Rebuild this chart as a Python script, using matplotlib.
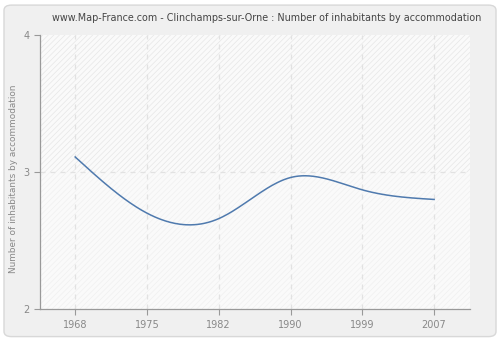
import numpy as np
import matplotlib
matplotlib.use("Agg")
import matplotlib.pyplot as plt
from matplotlib.patches import FancyBboxPatch, Rectangle

years = ["1968", "1975", "1982", "1990", "1999", "2007"]
inhabitants = [3.11, 2.70, 2.66, 2.96, 2.87, 2.80]
y_ticks = [2, 3, 4]


def natural_spline(x, y, n=300):
    # natural cubic spline through the points
    x = np.asarray(x, float)
    y = np.asarray(y, float)
    k = len(x)
    h = np.diff(x)
    A = np.zeros((k, k))
    b = np.zeros(k)
    A[0, 0] = A[-1, -1] = 1
    for i in range(1, k - 1):
        A[i, i - 1] = h[i - 1]
        A[i, i] = 2 * (h[i - 1] + h[i])
        A[i, i + 1] = h[i]
        b[i] = 6 * ((y[i + 1] - y[i]) / h[i] - (y[i] - y[i - 1]) / h[i - 1])
    m = np.linalg.solve(A, b)
    xs = np.linspace(x[0], x[-1], n)
    ys = np.empty_like(xs)
    for j, t in enumerate(xs):
        i = min(np.searchsorted(x, t, side="right") - 1, k - 2)
        a, c = x[i], x[i + 1]
        ys[j] = (m[i] * (c - t) ** 3 / (6 * h[i]) + m[i + 1] * (t - a) ** 3 / (6 * h[i])
                 + (y[i] / h[i] - m[i] * h[i] / 6) * (c - t)
                 + (y[i + 1] / h[i] - m[i + 1] * h[i] / 6) * (t - a))
    return xs, ys


plt.rcParams["hatch.linewidth"] = 0.5
fig = plt.figure(figsize=(5, 3.4), dpi=100, facecolor="white")
fig.patches.append(FancyBboxPatch((0.008, 0.01), 0.984, 0.975, boxstyle="round,pad=0,rounding_size=0.015",
                                  transform=fig.transFigure, facecolor="#f0f0f0", edgecolor="#d8d8d8",
                                  linewidth=1, zorder=-5))

ax = fig.add_axes([0.08, 0.091, 0.86, 0.806])
ax.set_zorder(1)
ax.set_facecolor("#fafafa")
pos = np.arange(len(years))
ax.set_xlim(-0.49, len(years) - 0.5)
ax.set_ylim(y_ticks[0], y_ticks[-1])

ax.add_patch(Rectangle((-0.49, 3), len(years), 1, facecolor="none", edgecolor="#e6e6e6",
                       hatch="//////", linewidth=0, zorder=0))
ax.add_patch(Rectangle((-0.49, 2), len(years), 1, facecolor="none", edgecolor="#f0f0f0",
                       hatch="//////", linewidth=0, zorder=0))

for p in pos:
    ax.axvline(p, color="#e2e2e2", linestyle=(0, (4, 4)), linewidth=0.9, zorder=1)
ax.axhline(3, color="#e2e2e2", linestyle=(0, (4, 4)), linewidth=0.9, zorder=1)

xs, ys = natural_spline(pos, inhabitants)
ax.plot(xs, ys, color="#4f7aae", linewidth=1.1, zorder=3)

ax.set_xticks(pos)
ax.set_xticklabels(years)
ax.set_yticks(y_ticks)
ax.tick_params(colors="#999999", labelcolor="#888888", labelsize=7, length=4, width=0.8)
ax.tick_params(axis="x", direction="out", pad=4)
for side in ["top", "right"]:
    ax.spines[side].set_visible(False)
for side in ["left", "bottom"]:
    ax.spines[side].set_color("#999999")
    ax.spines[side].set_linewidth(0.9)

fig.text(0.027, 0.474, "Number of inhabitants by accommodation", rotation=90,
         ha="center", va="center", fontsize=6.4, color="#888888")
fig.text(0.534, 0.948, "www.Map-France.com - Clinchamps-sur-Orne : Number of inhabitants by accommodation",
         ha="center", va="center", fontsize=6.9, color="#444444")

fig.savefig("out.png", dpi=100)
